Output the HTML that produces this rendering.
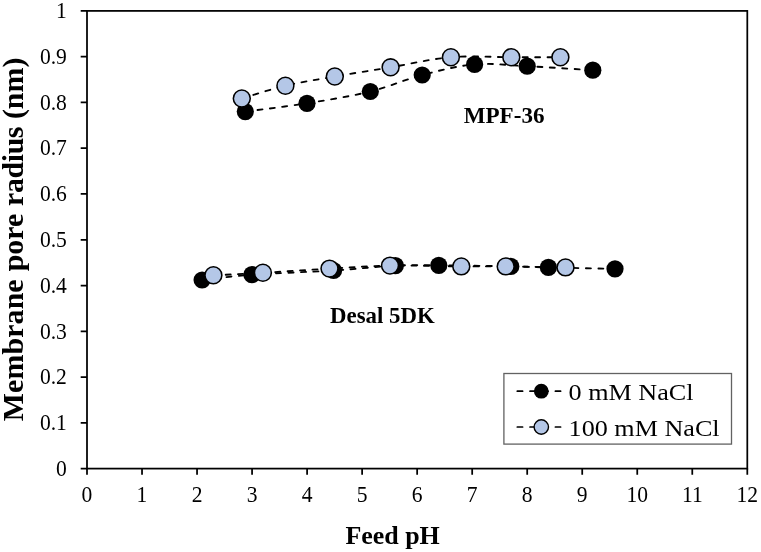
<!DOCTYPE html>
<html><head><meta charset="utf-8"><title>Membrane pore radius vs feed pH</title>
<style>
html,body{margin:0;padding:0;background:#fff;}
svg{display:block;}
text{font-family:"Liberation Serif","Times New Roman",serif;fill:#000;}
.tk{font-size:23.2px;}
.b{font-weight:bold;}
.ax{stroke:#000;stroke-width:1.75;fill:none;}
.dl{stroke:#000;stroke-width:1.85;fill:none;stroke-dasharray:5 7.4;stroke-linecap:round;}
.lg{stroke:#000;stroke-width:1.7;fill:none;stroke-dasharray:5.3 7.4;stroke-linecap:round;}
</style></head><body>
<svg width="761" height="552" viewBox="0 0 761 552">
<rect width="761" height="552" fill="#fff"/>

<rect class="ax" x="87.0" y="10.9" width="660.3" height="457.70"/>
<path class="ax" d="M80.7 468.60H87.0M80.7 422.83H87.0M80.7 377.06H87.0M80.7 331.29H87.0M80.7 285.52H87.0M80.7 239.75H87.0M80.7 193.98H87.0M80.7 148.21H87.0M80.7 102.44H87.0M80.7 56.67H87.0M80.7 10.90H87.0M87.00 468.6V474.80M142.03 468.6V474.80M197.05 468.6V474.80M252.07 468.6V474.80M307.10 468.6V474.80M362.12 468.6V474.80M417.15 468.6V474.80M472.18 468.6V474.80M527.20 468.6V474.80M582.22 468.6V474.80M637.25 468.6V474.80M692.27 468.6V474.80M747.30 468.6V474.80"/>
<text class="tk" transform="translate(66.9 475.8) scale(0.93 1)" text-anchor="end">0</text>
<text class="tk" transform="translate(66.9 430.0) scale(0.93 1)" text-anchor="end">0.1</text>
<text class="tk" transform="translate(66.9 384.3) scale(0.93 1)" text-anchor="end">0.2</text>
<text class="tk" transform="translate(66.9 338.5) scale(0.93 1)" text-anchor="end">0.3</text>
<text class="tk" transform="translate(66.9 292.7) scale(0.93 1)" text-anchor="end">0.4</text>
<text class="tk" transform="translate(66.9 246.9) scale(0.93 1)" text-anchor="end">0.5</text>
<text class="tk" transform="translate(66.9 201.2) scale(0.93 1)" text-anchor="end">0.6</text>
<text class="tk" transform="translate(66.9 155.4) scale(0.93 1)" text-anchor="end">0.7</text>
<text class="tk" transform="translate(66.9 109.6) scale(0.93 1)" text-anchor="end">0.8</text>
<text class="tk" transform="translate(66.9 63.9) scale(0.93 1)" text-anchor="end">0.9</text>
<text class="tk" transform="translate(66.9 18.1) scale(0.93 1)" text-anchor="end">1</text>
<text class="tk" transform="translate(87.0 501.9) scale(0.93 1)" text-anchor="middle">0</text>
<text class="tk" transform="translate(142.0 501.9) scale(0.93 1)" text-anchor="middle">1</text>
<text class="tk" transform="translate(197.1 501.9) scale(0.93 1)" text-anchor="middle">2</text>
<text class="tk" transform="translate(252.1 501.9) scale(0.93 1)" text-anchor="middle">3</text>
<text class="tk" transform="translate(307.1 501.9) scale(0.93 1)" text-anchor="middle">4</text>
<text class="tk" transform="translate(362.1 501.9) scale(0.93 1)" text-anchor="middle">5</text>
<text class="tk" transform="translate(417.1 501.9) scale(0.93 1)" text-anchor="middle">6</text>
<text class="tk" transform="translate(472.2 501.9) scale(0.93 1)" text-anchor="middle">7</text>
<text class="tk" transform="translate(527.2 501.9) scale(0.93 1)" text-anchor="middle">8</text>
<text class="tk" transform="translate(582.2 501.9) scale(0.93 1)" text-anchor="middle">9</text>
<text class="tk" transform="translate(637.2 501.9) scale(0.93 1)" text-anchor="middle">10</text>
<text class="tk" transform="translate(692.3 501.9) scale(0.93 1)" text-anchor="middle">11</text>
<text class="tk" transform="translate(747.3 501.9) scale(0.93 1)" text-anchor="middle">12</text>
<text class="b" font-size="29.9" transform="translate(23.2 0) rotate(-90)"><tspan x="-421.2" letter-spacing="0.1">Membrane</tspan> <tspan x="-271.3">pore</tspan> <tspan x="-205.9" letter-spacing="-0.4">radius</tspan> <tspan x="-119.1">(nm)</tspan></text>
<text class="b" font-size="25.95" x="392.6" y="543.7" text-anchor="middle">Feed pH</text>
<text class="b" font-size="23.1" x="463.7" y="122.7">MPF-36</text>
<text class="b" font-size="22.85" x="330.1" y="322.7">Desal 5DK</text>
<path class="dl" d="M245.3 111.6C255.6 110.2 286.2 106.6 307.0 103.3C327.8 100.0 351.1 96.2 370.3 91.5C389.5 86.8 404.8 79.5 422.2 75.0C439.6 70.5 457.1 65.9 474.6 64.4C492.1 62.9 507.5 65.2 527.2 66.2C546.9 67.2 581.9 69.5 592.8 70.2"/>
<path class="dl" d="M202.1 280.0C210.4 279.1 230.0 276.3 251.9 274.7C273.8 273.1 309.7 272.0 333.6 270.5C357.5 269.0 377.9 266.5 395.4 265.6C412.9 264.7 419.6 265.2 438.8 265.3C458.0 265.4 492.5 266.0 510.8 266.4C529.1 266.8 531.0 267.0 548.4 267.4C565.8 267.8 603.9 268.6 615.0 268.8"/>
<circle cx="245.3" cy="111.6" r="8.6" fill="#000"/><circle cx="307.0" cy="103.3" r="8.6" fill="#000"/><circle cx="370.3" cy="91.5" r="8.6" fill="#000"/><circle cx="422.2" cy="75.0" r="8.6" fill="#000"/><circle cx="474.6" cy="64.4" r="8.6" fill="#000"/><circle cx="527.2" cy="66.2" r="8.6" fill="#000"/><circle cx="592.8" cy="70.2" r="8.6" fill="#000"/>
<circle cx="202.1" cy="280.0" r="8.6" fill="#000"/><circle cx="251.9" cy="274.7" r="8.6" fill="#000"/><circle cx="333.6" cy="270.5" r="8.6" fill="#000"/><circle cx="395.4" cy="265.6" r="8.6" fill="#000"/><circle cx="438.8" cy="265.3" r="8.6" fill="#000"/><circle cx="510.8" cy="266.4" r="8.6" fill="#000"/><circle cx="548.4" cy="267.4" r="8.6" fill="#000"/><circle cx="615.0" cy="268.8" r="8.6" fill="#000"/>
<path class="dl" d="M241.8 98.5C249.1 96.4 269.9 89.4 285.4 85.7C300.9 82.0 317.3 79.6 334.8 76.5C352.3 73.4 371.2 70.5 390.6 67.3C410.0 64.1 430.8 58.9 450.9 57.2C471.0 55.5 493.1 57.2 511.3 57.2C529.5 57.2 552.2 57.2 560.4 57.2"/>
<path class="dl" d="M213.4 275.3C221.7 274.9 243.5 273.9 262.9 272.8C282.2 271.7 308.3 269.8 329.5 268.6C350.7 267.4 368.0 266.0 390.0 265.6C412.0 265.2 442.0 266.3 461.3 266.4C480.6 266.5 488.3 266.2 505.7 266.4C523.1 266.6 555.5 267.2 565.5 267.4"/>
<circle cx="241.8" cy="98.5" r="8.45" fill="#b4c7e7" stroke="#000" stroke-width="1.55"/><circle cx="285.4" cy="85.7" r="8.45" fill="#b4c7e7" stroke="#000" stroke-width="1.55"/><circle cx="334.8" cy="76.5" r="8.45" fill="#b4c7e7" stroke="#000" stroke-width="1.55"/><circle cx="390.6" cy="67.3" r="8.45" fill="#b4c7e7" stroke="#000" stroke-width="1.55"/><circle cx="450.9" cy="57.2" r="8.45" fill="#b4c7e7" stroke="#000" stroke-width="1.55"/><circle cx="511.3" cy="57.2" r="8.45" fill="#b4c7e7" stroke="#000" stroke-width="1.55"/><circle cx="560.4" cy="57.2" r="8.45" fill="#b4c7e7" stroke="#000" stroke-width="1.55"/>
<circle cx="213.4" cy="275.3" r="8.45" fill="#b4c7e7" stroke="#000" stroke-width="1.55"/><circle cx="262.9" cy="272.8" r="8.45" fill="#b4c7e7" stroke="#000" stroke-width="1.55"/><circle cx="329.5" cy="268.6" r="8.45" fill="#b4c7e7" stroke="#000" stroke-width="1.55"/><circle cx="390.0" cy="265.6" r="8.45" fill="#b4c7e7" stroke="#000" stroke-width="1.55"/><circle cx="461.3" cy="266.4" r="8.45" fill="#b4c7e7" stroke="#000" stroke-width="1.55"/><circle cx="505.7" cy="266.4" r="8.45" fill="#b4c7e7" stroke="#000" stroke-width="1.55"/><circle cx="565.5" cy="267.4" r="8.45" fill="#b4c7e7" stroke="#000" stroke-width="1.55"/>
<rect x="503.9" y="373.5" width="227.6" height="70.6" fill="#fff" stroke="#626262" stroke-width="1.3"/>
<path class="lg" d="M517.3 391.2H560.6"/><circle cx="541.3" cy="391.2" r="7.4" fill="#000"/>
<path class="lg" d="M517.3 427H560.6"/><circle cx="541.3" cy="427" r="7.2" fill="#b4c7e7" stroke="#000" stroke-width="1.4"/>
<text font-size="24" x="568.6" y="399.6" textLength="125" lengthAdjust="spacingAndGlyphs">0 mM NaCl</text>
<text font-size="24" x="568.6" y="435.6" textLength="151" lengthAdjust="spacingAndGlyphs">100 mM NaCl</text>
</svg></body></html>
